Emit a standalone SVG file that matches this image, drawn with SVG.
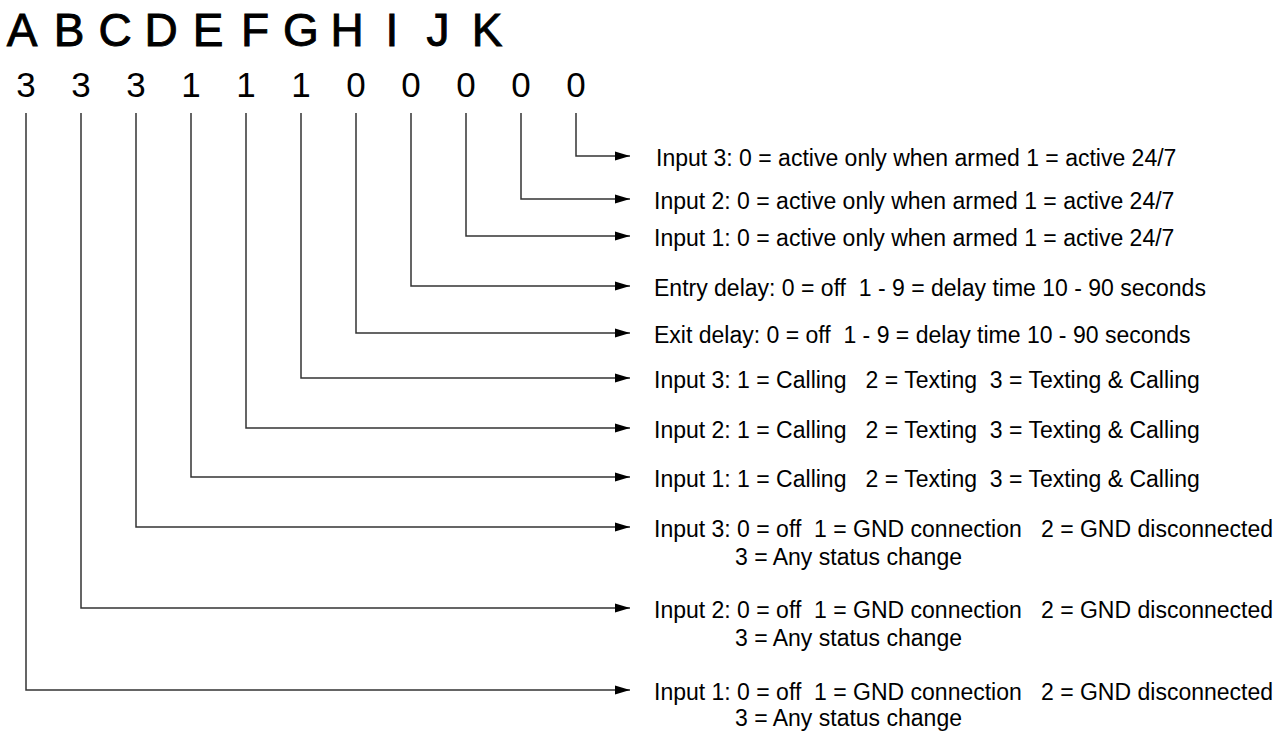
<svg xmlns="http://www.w3.org/2000/svg" width="1280" height="733" viewBox="0 0 1280 733">
<style>
.hdr{font-family:"Liberation Sans",Arial,sans-serif;font-size:46px;fill:#000;stroke:#000;stroke-width:0.9;text-anchor:middle}
.dig{font-family:"Liberation Sans",Arial,sans-serif;font-size:35px;fill:#000;text-anchor:middle}
.lbl{font-family:"Liberation Sans",Arial,sans-serif;font-size:23px;fill:#000;white-space:pre}
.con{fill:none;stroke:#333;stroke-width:1.5}
</style>
<defs>
<marker id="arr" viewBox="0 0 15 10" refX="15" refY="5" markerWidth="15" markerHeight="10" markerUnits="userSpaceOnUse" orient="auto">
<path d="M0,0.5 L15,5 L0,9.5 Z" fill="#000"/>
</marker>
</defs>
<g id="header">
<text class="hdr" x="22" y="46">A</text>
<text class="hdr" x="69" y="46">B</text>
<text class="hdr" x="115" y="46">C</text>
<text class="hdr" x="161" y="46">D</text>
<text class="hdr" x="208" y="46">E</text>
<text class="hdr" x="255" y="46">F</text>
<text class="hdr" x="301" y="46">G</text>
<text class="hdr" x="347" y="46">H</text>
<text class="hdr" x="392" y="46">I</text>
<text class="hdr" x="438" y="46">J</text>
<text class="hdr" x="487" y="46">K</text>
</g>
<g id="digits">
<text class="dig" x="26" y="97">3</text>
<text class="dig" x="81" y="97">3</text>
<text class="dig" x="136" y="97">3</text>
<text class="dig" x="191" y="97">1</text>
<text class="dig" x="246" y="97">1</text>
<text class="dig" x="301" y="97">1</text>
<text class="dig" x="356" y="97">0</text>
<text class="dig" x="411" y="97">0</text>
<text class="dig" x="466" y="97">0</text>
<text class="dig" x="521" y="97">0</text>
<text class="dig" x="576" y="97">0</text>
</g>
<g id="connectors">
<polyline class="con" points="576,113 576,156 630,156" marker-end="url(#arr)"/>
<polyline class="con" points="521,113 521,199 630,199" marker-end="url(#arr)"/>
<polyline class="con" points="466,113 466,236 630,236" marker-end="url(#arr)"/>
<polyline class="con" points="411,113 411,286 630,286" marker-end="url(#arr)"/>
<polyline class="con" points="356,113 356,333 630,333" marker-end="url(#arr)"/>
<polyline class="con" points="301,113 301,378 630,378" marker-end="url(#arr)"/>
<polyline class="con" points="246,113 246,428 630,428" marker-end="url(#arr)"/>
<polyline class="con" points="191,113 191,477 630,477" marker-end="url(#arr)"/>
<polyline class="con" points="136,113 136,527 630,527" marker-end="url(#arr)"/>
<polyline class="con" points="81,113 81,608 630,608" marker-end="url(#arr)"/>
<polyline class="con" points="26,113 26,690 630,690" marker-end="url(#arr)"/>
</g>
<g id="label-K"><text class="lbl" x="656" y="166">Input 3: 0 = active only when armed 1 = active 24/7</text></g>
<g id="label-J"><text class="lbl" x="654" y="209">Input 2: 0 = active only when armed 1 = active 24/7</text></g>
<g id="label-I"><text class="lbl" x="654" y="246">Input 1: 0 = active only when armed 1 = active 24/7</text></g>
<g id="label-H"><text class="lbl" x="654" y="296">Entry delay: 0 = off  1 - 9 = delay time 10 - 90 seconds</text></g>
<g id="label-G"><text class="lbl" x="654" y="343">Exit delay: 0 = off  1 - 9 = delay time 10 - 90 seconds</text></g>
<g id="label-F"><text class="lbl" x="654" y="388">Input 3: 1 = Calling   2 = Texting  3 = Texting &amp; Calling</text></g>
<g id="label-E"><text class="lbl" x="654" y="438">Input 2: 1 = Calling   2 = Texting  3 = Texting &amp; Calling</text></g>
<g id="label-D"><text class="lbl" x="654" y="487">Input 1: 1 = Calling   2 = Texting  3 = Texting &amp; Calling</text></g>
<g id="label-C"><text class="lbl" x="654" y="537">Input 3: 0 = off  1 = GND connection   2 = GND disconnected</text><text class="lbl" x="735" y="565">3 = Any status change</text></g>
<g id="label-B"><text class="lbl" x="654" y="618">Input 2: 0 = off  1 = GND connection   2 = GND disconnected</text><text class="lbl" x="735" y="646">3 = Any status change</text></g>
<g id="label-A"><text class="lbl" x="654" y="700">Input 1: 0 = off  1 = GND connection   2 = GND disconnected</text><text class="lbl" x="735" y="726">3 = Any status change</text></g>
</svg>
